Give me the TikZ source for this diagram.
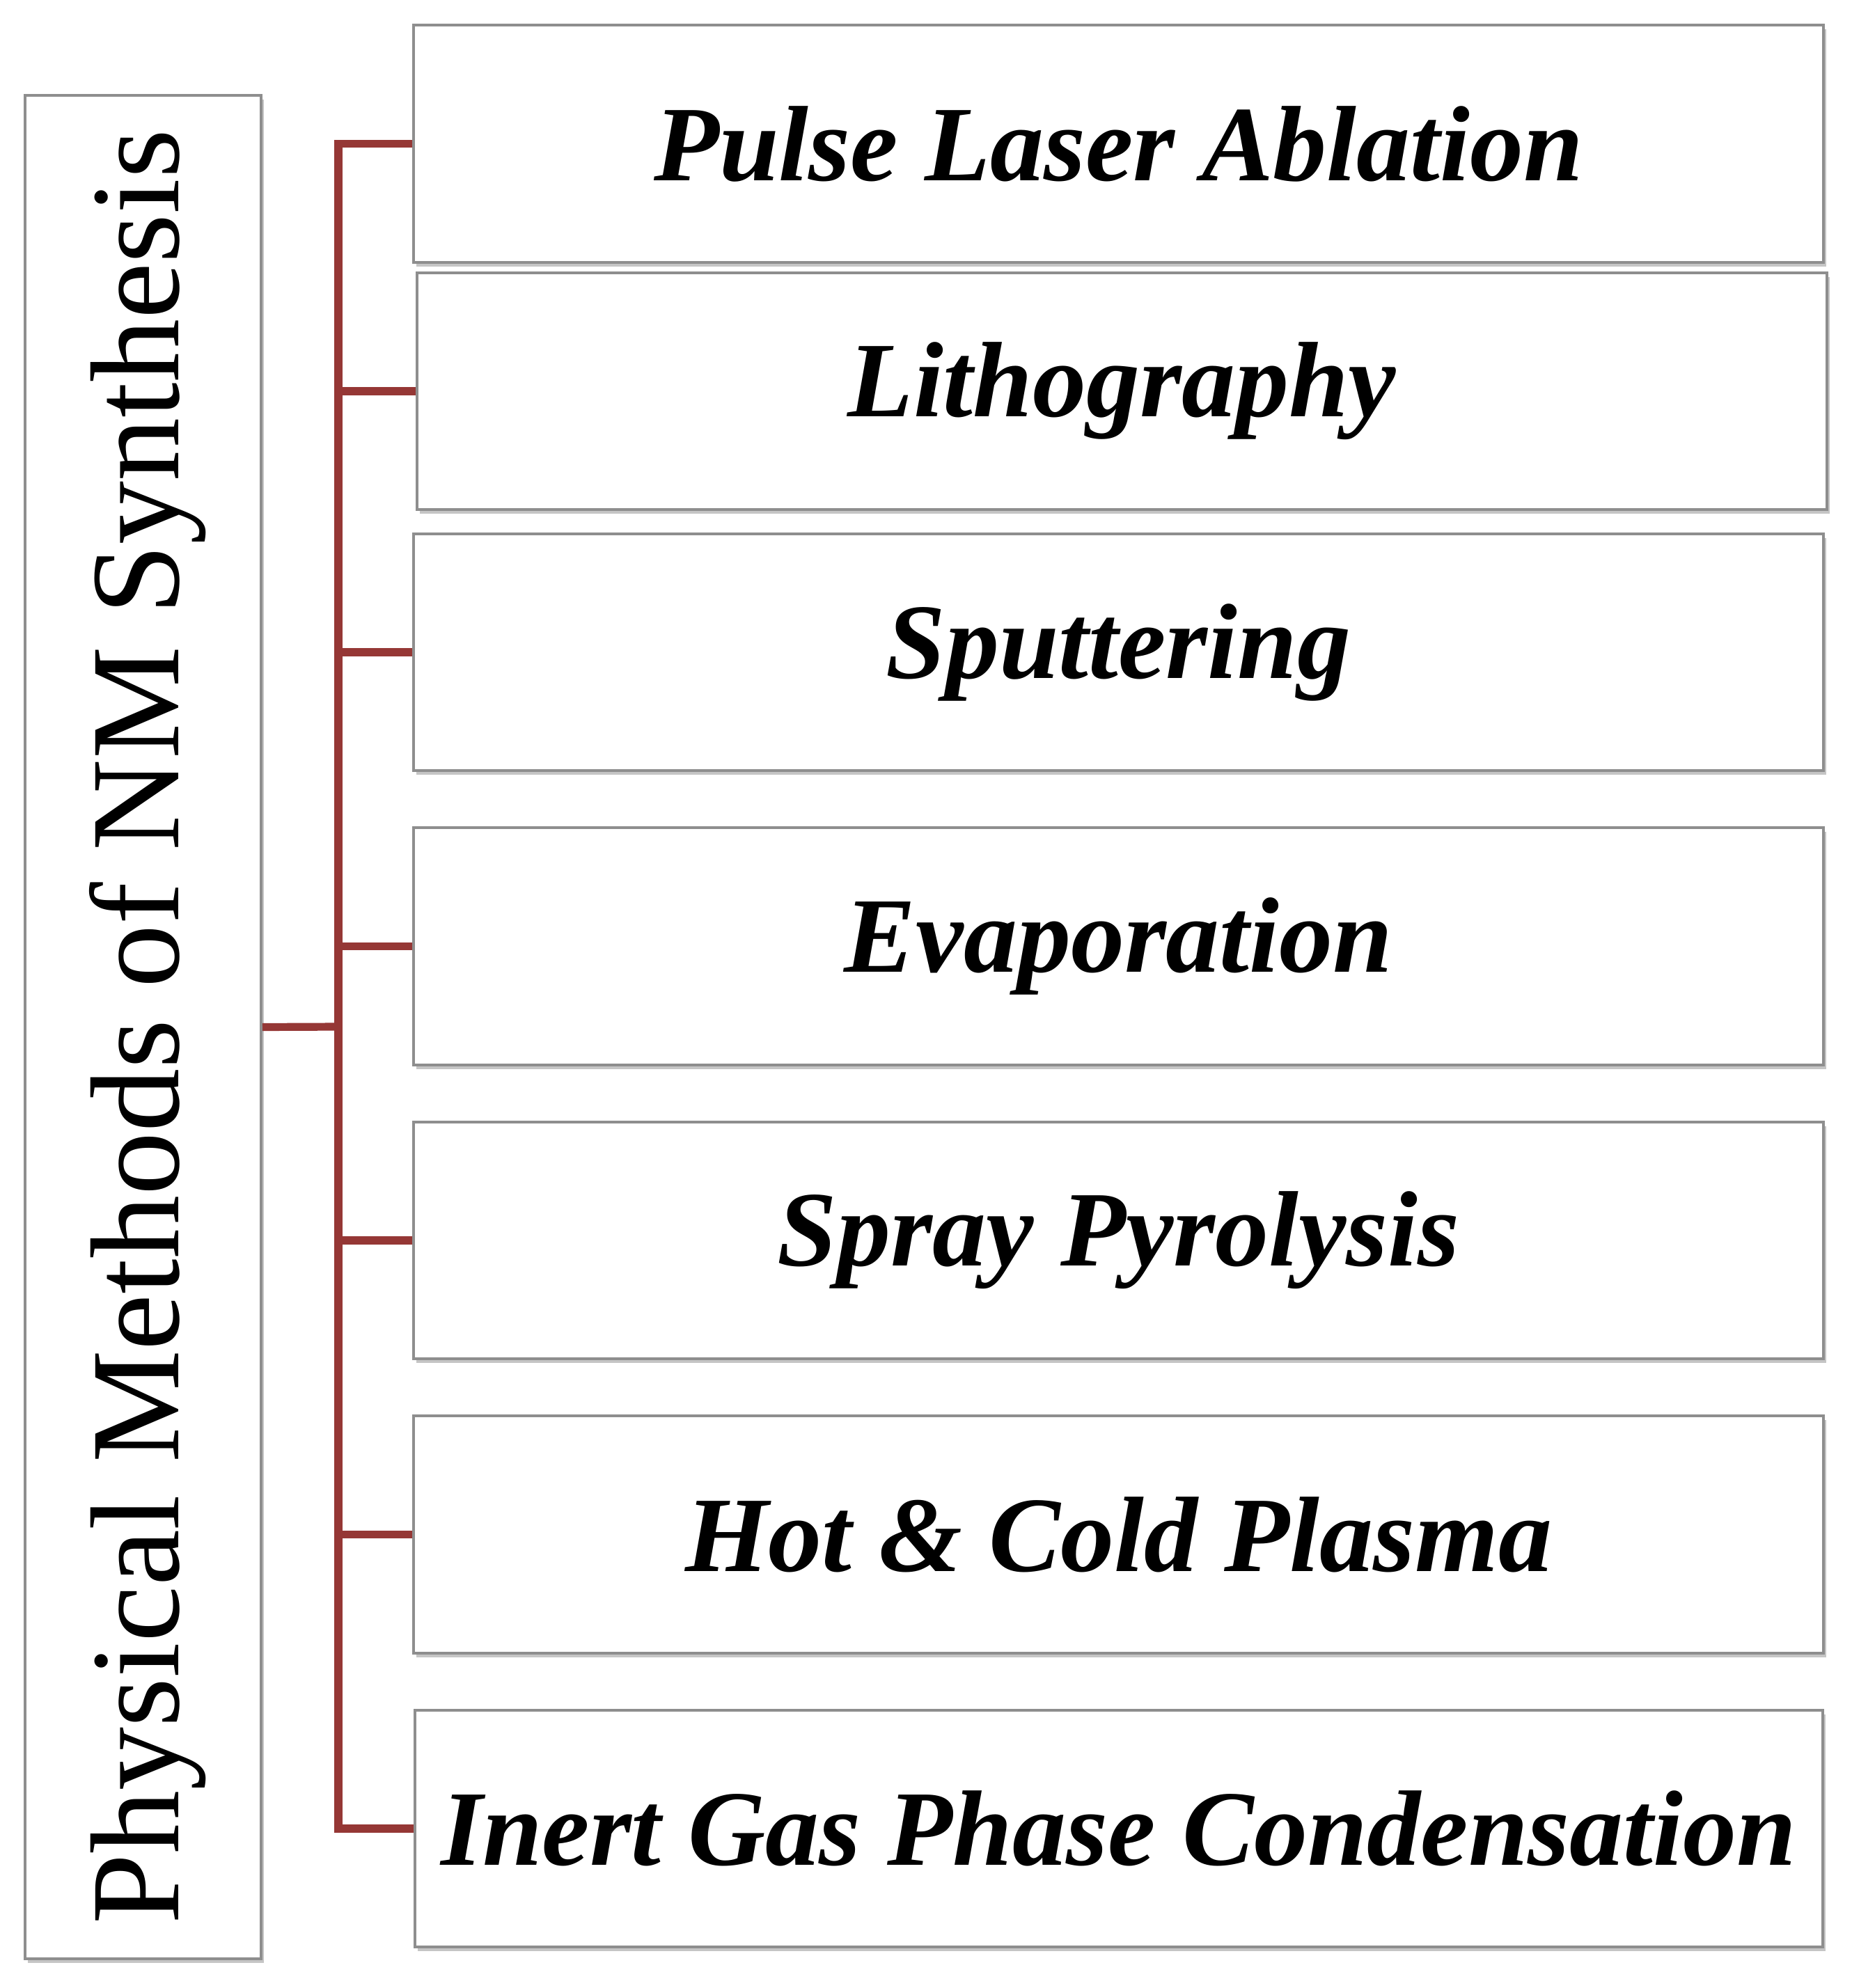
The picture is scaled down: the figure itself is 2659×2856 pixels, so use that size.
\documentclass[tikz,border=0pt]{standalone}
\usepackage{fontspec}
\setmainfont{Liberation Serif}
\usetikzlibrary{shadows}
\definecolor{conn}{HTML}{953735}
\definecolor{boxline}{HTML}{8E8E8E}
\begin{document}
\begin{tikzpicture}[x=0.25pt,y=-0.25pt,
  box/.style={draw=boxline, line width=1pt, fill=white, inner sep=0pt,
    drop shadow={shadow xshift=1pt, shadow yshift=-1.6pt, opacity=0.45, fill=gray},
    font=\fontsize{38.5}{44}\selectfont\bfseries\itshape},
  lbl/.style={font=\fontsize{45.5}{52}\selectfont, inner sep=0pt},
  link/.style={draw=conn, line width=2.8pt}]
\useasboundingbox (0,0) rectangle (2659,2856);
\fill[white] (0,0) rectangle (2659,2856);
\node[box, minimum width=84.75pt, minimum height=669.25pt] (L) at (205.5,1475.5) {};
\node[lbl, rotate=90] (Ltxt) at (212,1475) {Physical Methods of NM Synthesis};
\node[box, minimum width=506.25pt, minimum height=85.25pt] (B1) at (1606.5,206.5) {Pulse Laser Ablation};
\node[box, minimum width=506.25pt, minimum height=85pt] (B2) at (1611.5,562) {Lithography};
\node[box, minimum width=506.25pt, minimum height=85pt] (B3) at (1606.5,937) {Sputtering};
\node[box, minimum width=506.25pt, minimum height=85.25pt] (B4) at (1606.5,1359.5) {Evaporation};
\node[box, minimum width=506.25pt, minimum height=85pt] (B5) at (1606.5,1782) {Spray Pyrolysis};
\node[box, minimum width=506.25pt, minimum height=85.25pt] (B6) at (1606.5,2204.5) {Hot \& Cold Plasma};
\node[box, minimum width=505.5pt, minimum height=85pt] (B7) at (1606.5,2627) {Inert Gas Phase Condensation};
\coordinate (T) at (486,1475);
\draw[link] (L.east) -- (T);
\foreach \b in {B1,B2,B3,B4,B5,B6,B7}{
  \draw[link] (T) |- (\b.west);
}
\end{tikzpicture}
\end{document}
